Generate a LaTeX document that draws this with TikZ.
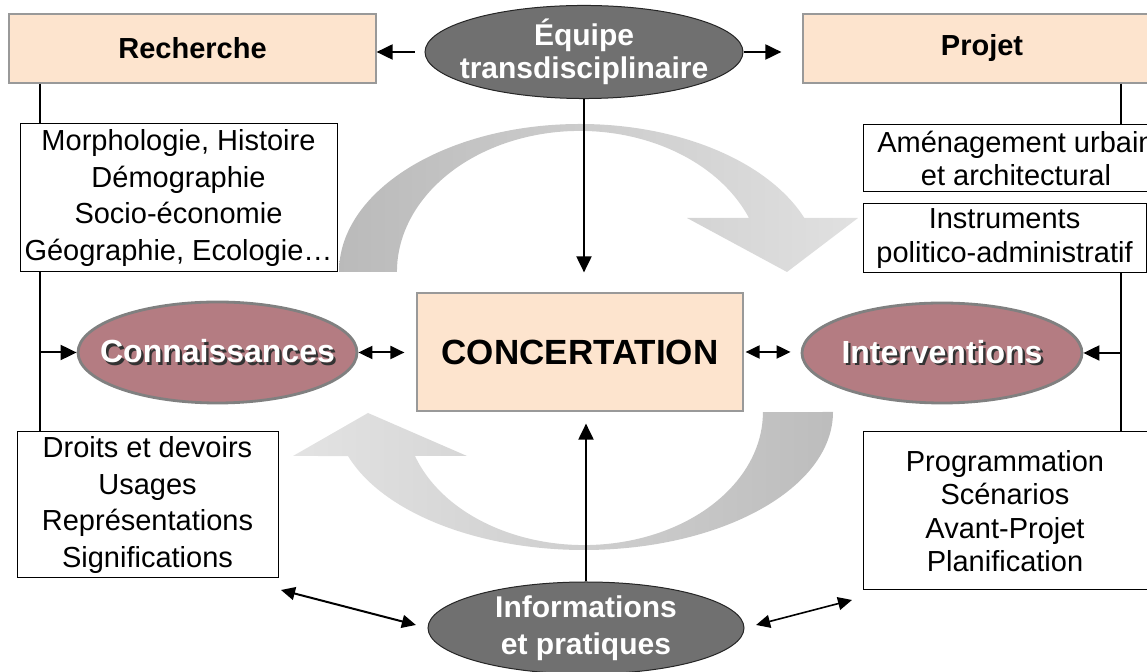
\documentclass[tikz,border=0pt]{standalone}
\usepackage{fontspec}
\setmainfont{Liberation Sans}
\usetikzlibrary{arrows.meta,shapes.geometric}

\definecolor{peach}{RGB}{253,228,206}
\definecolor{ovalgray}{RGB}{112,112,112}
\definecolor{rosy}{RGB}{180,124,130}
\definecolor{rimgray}{RGB}{128,128,128}

% white text with a dark drop shadow
\newcommand\shtxt[1]{\makebox[0pt][l]{\hspace{1.2pt}\raisebox{-1.2pt}{\textcolor{black!80}{#1}}}#1}

\tikzset{
  titlebox/.style={draw=black!40, line width=0.6pt, fill=peach, inner sep=0pt,
    font=\fontsize{14.5}{17}\selectfont\bfseries},
  listbox/.style={draw, line width=0.5pt, fill=white, inner sep=0pt, align=center},
  darkoval/.style={ellipse, draw=black!85, line width=0.5pt, fill=ovalgray, text=white,
    inner xsep=-12pt, inner ysep=0pt, align=center},
  redoval/.style={ellipse, draw=rimgray, line width=1.4pt, fill=rosy, text=white,
    inner xsep=-12pt, inner ysep=0pt, font=\fontsize{16}{18}\selectfont\bfseries},
  arr/.style={-{Triangle[length=8pt,width=7.5pt]}, line width=1pt},
  darr/.style={{Triangle[length=7pt,width=6.5pt]}-{Triangle[length=7pt,width=6.5pt]}, line width=1pt}
}

\begin{document}
\begin{tikzpicture}[x=0.5pt,y=-0.5pt]
\useasboundingbox (0,0) rectangle (1147,672);

% grey cycle arrows behind everything
\path[left color=black!27, right color=black!12]
  (339,272) arc[start angle=180, end angle=338.6, x radius=241, y radius=148]
  -- (858,218) -- (787,272) -- (687,218) -- (749,218)
  arc[start angle=337.5, end angle=180, x radius=183, y radius=141] -- cycle;
\path[left color=black!11, right color=black!26]
  (833,412) arc[start angle=0, end angle=161.4, x radius=249, y radius=138]
  -- (293,456) -- (368,413) -- (467,456) -- (415,456)
  arc[start angle=160.7, end angle=0, x radius=179, y radius=133] -- cycle;

% top row
\node[titlebox, minimum width=183.5pt, minimum height=34.5pt] (recherche) at (192.5,48.5) {Recherche};
\node[titlebox, minimum width=179pt, minimum height=34.5pt] (projet) at (982,48.5) {Projet};
\node[darkoval, minimum width=159pt, minimum height=46pt,
  font=\fontsize{15}{16.5}\selectfont\bfseries] (equipe) at (584,52) {Équipe\\transdisciplinaire};

% side lists
\node[listbox, minimum width=158.5pt, minimum height=74pt,
  font=\fontsize{14.5}{18.3}\selectfont] (morpho) at (178.5,198)
  {Morphologie, Histoire\\Démographie\\Socio-économie\\Géographie, Ecologie…};
\node[listbox, minimum width=153pt, minimum height=33.5pt,
  font=\fontsize{14.5}{16.7}\selectfont] (amenag) at (1016,158.5)
  {Aménagement urbain\\et architectural};
\node[listbox, minimum width=141.5pt, minimum height=34.5pt,
  font=\fontsize{14.5}{16.7}\selectfont] (instr) at (1004.5,238.5)
  {Instruments\\politico-administratif};
\node[listbox, minimum width=130.5pt, minimum height=73pt,
  font=\fontsize{14.5}{18.3}\selectfont] (droits) at (147.5,505)
  {Droits et devoirs\\Usages\\Représentations\\Significations};
\node[listbox, minimum width=142pt, minimum height=79pt,
  font=\fontsize{14.5}{16.7}\selectfont] (progr) at (1005,511)
  {Programmation\\Scénarios\\Avant-Projet\\Planification};

% middle row
\node[redoval, minimum width=139.5pt, minimum height=50.5pt] (conn) at (217.5,352.5) {\shtxt{Connaissances}};
\node[titlebox, minimum width=163pt, minimum height=59pt,
  font=\fontsize{17.5}{20}\selectfont\bfseries] (concert) at (580,352) {CONCERTATION};
\node[redoval, minimum width=140pt, minimum height=50pt] (interv) at (942,353) {\shtxt{Interventions}};

% bottom
\node[darkoval, minimum width=158pt, minimum height=46pt,
  font=\fontsize{15}{18.5}\selectfont\bfseries] (infos) at (586,628) {Informations\\et pratiques};

\coordinate (lspine) at (40,352.5);
\coordinate (rspine) at (1121,353);
\coordinate (dl) at (281,590);
\coordinate (dr) at (852,600);

% connectors
\draw[arr, shorten <=5pt] (equipe.west) -- (equipe.west -| recherche.east);
\draw[arr, shorten >=10.5pt] (equipe.east) -- (equipe.east -| projet.west);
\draw[arr, shorten >=10pt] (equipe.south) -- (equipe.south |- concert.north);
\draw[arr, shorten >=6pt] (infos.north) -- (infos.north |- concert.south);
\draw[darr, shorten >=6pt] (conn.east) -- (conn.east -| concert.west);
\draw[darr, shorten >=5pt, shorten <=1pt] (concert.east) -- (concert.east -| interv.west);

\draw[line width=0.8pt] (lspine |- recherche.south) -- (lspine |- morpho.north);
\draw[line width=0.8pt] (lspine |- morpho.south) -- (lspine |- droits.north);
\draw[arr] (lspine) -- (conn.west);
\draw[line width=0.8pt] (rspine |- projet.south) -- (rspine |- amenag.north);
\draw[line width=0.8pt] (rspine |- instr.south) -- (rspine |- progr.north);
\draw[arr] (rspine) -- (interv.east);

\draw[darr, shorten >=6pt] (dl) -- (infos.west);
\draw[darr, line width=0.8pt, shorten <=6pt] (infos.east) -- (dr);

\end{tikzpicture}
\end{document}
